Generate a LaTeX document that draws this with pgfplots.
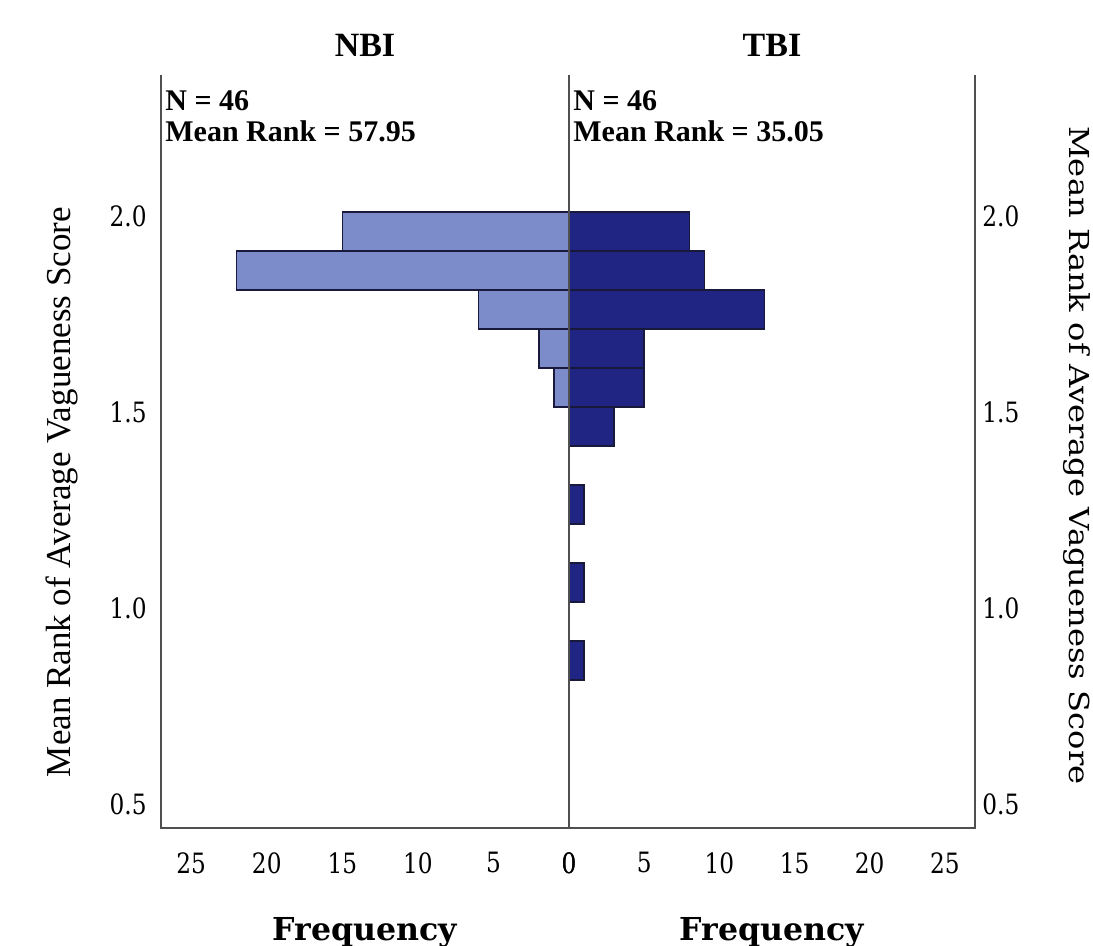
\documentclass[border=0pt]{standalone}
\usepackage{fontspec}
\setmainfont{Liberation Serif}
\newfontfamily\tickfont[FakeStretch=0.83]{DejaVu Serif}
\newfontfamily\rlabfont[FakeStretch=1.17]{DejaVu Serif}
\newfontfamily\freqfont{DejaVu Serif}
\usepackage{pgfplots}
\usepackage{pgfplotstable}
\pgfplotsset{compat=1.18}
\definecolor{nbi}{RGB}{124,140,202}
\definecolor{tbi}{RGB}{32,36,130}
\definecolor{edge}{RGB}{25,25,60}
\definecolor{axl}{RGB}{80,80,80}

\pgfplotstableread{
y x
1.96025 15
1.86075 22
1.76125 6
1.66175 2
1.56225 1
}\nbidata
\pgfplotstableread{
y x
1.96025 8
1.86075 9
1.76125 13
1.66175 5
1.56225 5
1.46275 3
1.26375 1
1.06475 1
0.86575 1
}\tbidata

\pgfplotsset{
 pyr/.style={
  scale only axis, height=376.5pt,
  xmin=0, xmax=27, ymin=0.4388, ymax=2.3597,
  axis line style={draw=none},
  major tick length=0pt,
  xtick={0,5,...,25}, ytick={0.5,1.0,1.5,2.0},
  yticklabel style={/pgf/number format/.cd, fixed, fixed zerofill, precision=1},
  tick label style={font=\fontsize{14}{16}\selectfont\tickfont, inner sep=0pt},
  /pgf/number format/assume math mode=true,
  xticklabel shift=12pt,
  xbar, bar width=0.0995, bar shift=0pt,
  every axis title/.style={at={(axis description cs:0.5,1)}, anchor=base, yshift=9pt, font=\fontsize{17}{20}\selectfont\bfseries},
  every axis x label/.style={at={(axis description cs:0.5,0)}, anchor=base, yshift=-56.5pt, font=\fontsize{15.8}{18}\selectfont\freqfont\bfseries},
  clip=false,
 }
}

\begin{document}
\begin{tikzpicture}
\path[use as bounding box] (-284.5pt,-59pt) rectangle (262pt,414pt);
% left panel
\begin{axis}[pyr, width=204pt, x dir=reverse, at={(0pt,0pt)}, anchor=south east,
  title={NBI}, xlabel={Frequency},
  ylabel={Mean Rank of Average Vagueness Score},
  every axis y label/.style={at={(axis description cs:-0.2426,0.446)}, rotate=90, anchor=center, font=\fontsize{17.5}{20}\selectfont},
  yticklabel pos=left, yticklabel shift=7pt]
\addplot[fill=nbi, draw=edge, line width=0.75pt] table[x=x,y=y]{\nbidata};
\draw[axl, line width=1pt] (axis description cs:0,1) -- (axis description cs:0,0) -- (axis description cs:1,0) -- (axis description cs:1,1);
\node[anchor=north west, inner sep=0pt, align=left, xshift=2pt, yshift=-7.5pt, font=\fontsize{15}{15.5}\selectfont\bfseries] at (axis description cs:0,1) {N = 46\\Mean Rank = 57.95};
\end{axis}
% right panel
\begin{axis}[pyr, width=203pt, at={(0pt,0pt)}, anchor=south west,
  title={TBI}, xlabel={Frequency},
  ylabel={Mean Rank of Average Vagueness Score},
  every axis y label/.style={at={(axis description cs:1.251,0.495)}, rotate=-90, anchor=center, font=\fontsize{13.75}{16}\selectfont\rlabfont},
  yticklabel pos=right, yticklabel shift=3.5pt]
\addplot[fill=tbi, draw=edge, line width=0.75pt] table[x=x,y=y]{\tbidata};
\draw[axl, line width=1pt] (axis description cs:0,1) -- (axis description cs:0,0) -- (axis description cs:1,0) -- (axis description cs:1,1);
\node[anchor=north west, inner sep=0pt, align=left, xshift=2pt, yshift=-7.5pt, font=\fontsize{15}{15.5}\selectfont\bfseries] at (axis description cs:0,1) {N = 46\\Mean Rank = 35.05};
\end{axis}
\end{tikzpicture}
\end{document}
